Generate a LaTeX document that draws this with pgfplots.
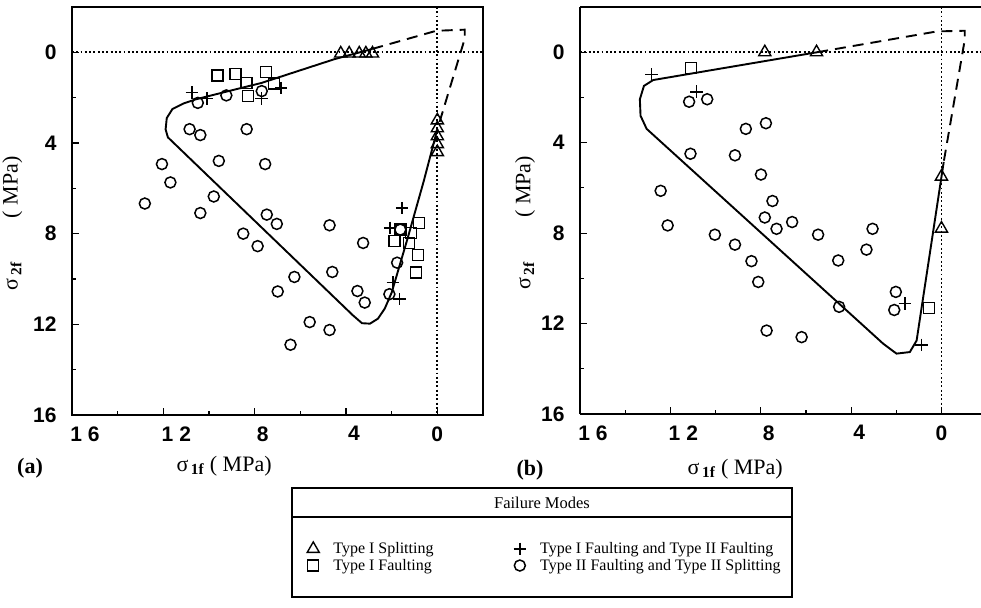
\documentclass[border=0pt]{standalone}
\usepackage{pgfplots}
\pgfplotsset{compat=1.18}
\usepackage{fontspec}
\setmainfont{Liberation Serif}
\setsansfont{Liberation Sans}

\newcommand{\tickfont}{\fontsize{21}{24}\selectfont\sffamily\bfseries}
\newcommand{\labfont}{\fontsize{22}{26}\selectfont}
\newcommand{\legfont}{\fontsize{16}{18}\selectfont}
\newcommand{\sig}[1]{σ\textsubscript{\textbf{\,#1}}}

\pgfplotsset{
  panel/.style={
    scale only axis, anchor=south west,
    x dir=reverse, y dir=reverse,
    ymin=-2, ymax=16,
    xtick={0,4,8,12,16},
    xticklabels={0,\kern16pt 4,\kern16pt 8,{\kern26pt 1\hspace{6pt}2},{\kern26pt 1\hspace{6pt}6}},
    ytick={0,4,8,12,16},
    minor tick num=1,
    tick pos=left, tick align=inside,
    major tick length=7pt, minor tick length=4pt,
    every tick/.style={line width=1.2pt, black},
    axis line style={line width=1.4pt},
    every tick label/.append style={font=\tickfont},
    xticklabel style={yshift=-8pt},
    yticklabel style={xshift=-12pt},
    /pgf/number format/assume math mode=true,
    label style={font=\labfont},
    clip=false,
  },
  tri/.style={only marks, mark=triangle, mark size=7pt, mark options={line width=1.4pt}},
  sq/.style={only marks, mark=square, mark size=5.5pt, mark options={line width=1.4pt}},
  pl/.style={only marks, mark=+, mark size=6.3pt, mark options={line width=1.5pt}},
  ci/.style={only marks, mark=o, mark size=5.5pt, mark options={line width=1.5pt}},
  dots/.style={line width=1.9pt, dash pattern=on 1.9pt off 2.4pt},
  env/.style={line width=1.9pt},
  envd/.style={line width=1.9pt, dash pattern=on 11pt off 7pt},
}

\begin{document}
\begin{tikzpicture}
\useasboundingbox (0pt,0pt) rectangle (981pt,607pt);

% panel (a)
\begin{axis}[panel, at={(72pt,192pt)}, width=411pt, height=408pt,
    xmin=-2, xmax=16,
    xlabel={\sig{1f} ( MPa)},
    xlabel style={at={(axis description cs:0.37,-0.125)}, anchor=center},
    ylabel={\sig{2f}\hspace{2em}( MPa)},
    ylabel style={at={(axis description cs:-0.145,0.47)}, anchor=center},
    legend columns=2, legend cell align=left,
    legend image code/.code={\draw[#1] plot coordinates {(0pt,0pt)};},
    legend style={at={(axis description cs:0.5718,-0.3074)}, anchor=north west,
        draw=none, fill=none, font=\legfont, row sep=0pt, inner sep=0pt,
        /tikz/every odd column/.append style={column sep=12pt},
        /tikz/every even column/.append style={column sep=78pt}},
]
\addplot[dots, forget plot] coordinates {(16,0) (-2,0)};
\addplot[dots, forget plot] coordinates {(0,-2) (0,16)};
\addplot[env, forget plot] coordinates {
  (0.0,3.4) (0.6,5.7) (1.3,8.2) (2.0,10.6) (2.3,11.3) (2.6,11.75)
  (2.95,11.97) (3.3,11.95) (3.7,11.6) (11.8,3.75) (11.9,3.4) (11.85,2.9)
  (11.6,2.5) (11.1,2.25) (10.6,2.08) (9.5,1.8) (7.7,1.35) (4.5,0.3) (2.85,-0.15)};
\addplot[envd, forget plot] coordinates {
  (2.85,-0.15) (0.05,-0.95) (-1.2,-1.0) (-1.2,-0.6) (0.0,3.4)};
\addplot[tri] coordinates {
  (4.23,0.05) (3.86,0.05) (3.42,0.05) (3.13,0.05) (2.84,0.05)
  (0,3.0) (0,3.35) (0,3.7) (0,4.05) (0,4.4)};
\addlegendentry{Type I Splitting}
\addplot[pl] coordinates {
  (10.75,1.78) (10.09,2.04) (6.84,1.58) (7.69,2.04)
  (1.54,6.87) (2.07,7.75) (1.95,10.16) (1.66,10.89)};
\addlegendentry{Type I Faulting and Type II Faulting}
\addplot[sq] coordinates {
  (9.63,1.02) (8.84,0.95) (8.35,1.35) (7.5,0.88) (8.28,1.93) (7.15,1.38)
  (0.81,7.53) (1.61,7.82) (1.15,7.97) (1.88,8.33) (1.25,8.41) (0.85,8.95) (0.93,9.72)};
\addlegendentry{Type I Faulting}
\addplot[ci] coordinates {
  (12.81,6.67) (12.06,4.93) (11.69,5.74) (10.85,3.39) (10.38,3.65) (10.49,2.23)
  (9.24,1.9) (7.69,1.71) (9.57,4.79) (9.79,6.36) (10.38,7.09) (8.35,3.39)
  (7.54,4.93) (7.47,7.16) (7.03,7.57) (8.5,8.0) (7.87,8.55) (6.26,9.91)
  (6.99,10.55) (4.72,7.63) (4.6,9.69) (5.59,11.9) (4.72,12.25) (6.43,12.9)
  (3.25,8.41) (3.5,10.53) (3.18,11.04) (1.62,7.82) (1.76,9.28) (2.1,10.67)};
\addlegendentry{Type II Faulting and Type II Splitting}
\end{axis}

% panel (b)
\begin{axis}[panel, at={(580pt,193pt)}, width=401pt, height=407pt,
    xmin=-1.75, xmax=16, axis y line*=left,
    xlabel={\sig{1f} ( MPa)},
    xlabel style={at={(axis description cs:0.387,-0.135)}, anchor=center},
    ylabel={\sig{2f}\hspace{2em}( MPa)},
    ylabel style={at={(axis description cs:-0.137,0.47)}, anchor=center},
]
\addplot[dots] coordinates {(16,0) (-1.75,0)};
\addplot[dots] coordinates {(0,-2) (0,16)};
\addplot[env] coordinates {
  (5.5,0.0) (12.76,1.23) (13.17,1.49) (13.35,2.08) (13.32,2.81) (13.05,3.39)
  (2.58,12.89) (1.99,13.33) (1.4,13.26) (1.1,12.75) (-0.1,4.85)};
\addplot[envd] coordinates {
  (5.5,0.0) (0.2,-0.92) (-1.03,-0.95) (-1.03,-0.55) (-0.1,4.85)};
\addplot[tri] coordinates {(7.82,0.0) (5.53,0.0) (0,5.5) (0,7.8)};
\addplot[pl] coordinates {(12.83,0.98) (10.84,1.75) (1.62,11.11) (0.88,12.94)};
\addplot[sq] coordinates {(11.1,0.69) (0.55,11.32)};
\addplot[ci] coordinates {
  (11.17,2.19) (10.37,2.08) (8.66,3.39) (7.77,3.14) (11.11,4.49) (9.14,4.56)
  (7.99,5.41) (12.43,6.13) (12.12,7.66) (7.48,6.58) (7.82,7.31) (7.3,7.81)
  (6.61,7.51) (10.03,8.07) (9.14,8.51) (8.41,9.24) (8.11,10.16) (5.46,8.07)
  (4.57,9.21) (3.32,8.73) (3.05,7.81) (4.53,11.26) (2.02,10.6) (2.09,11.4)
  (7.74,12.31) (6.19,12.6)};
\end{axis}

% panel letters
\node[font=\labfont\bfseries] at (30pt,139pt) {(a)};
\node[font=\labfont\bfseries] at (530pt,137pt) {(b)};

% legend frame
\draw[line width=1.2pt] (292pt,10pt) rectangle (792pt,119pt);
\draw[line width=1.2pt] (292pt,90pt) -- (792pt,90pt);
\node[font=\fontsize{16.5}{18}\selectfont] at (542pt,104pt) {Failure Modes};
\end{tikzpicture}
\end{document}
